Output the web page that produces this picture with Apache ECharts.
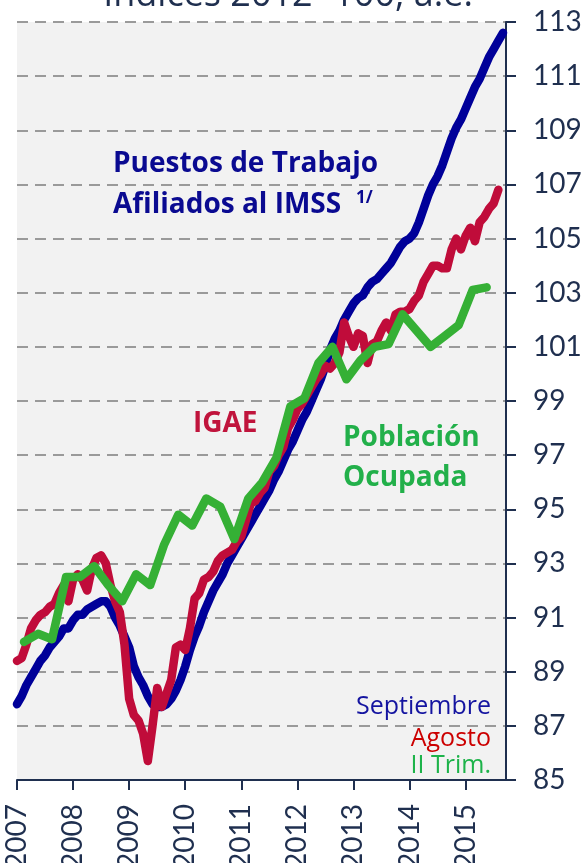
<!DOCTYPE html>
<html>
<head>
<meta charset="utf-8">
<script src="https://cdn.jsdelivr.net/npm/echarts@6/dist/echarts.min.js"></script>
<style>
  html, body { margin: 0; padding: 0; background: #fff; }
  #chart { width: 585px; height: 863px; }
</style>
</head>
<body>
<div id="chart"></div>
<script>
  // indices 2012=100, a.e.
  const startYear = 2007
  const yearTicks = [2007, 2008, 2009, 2010, 2011, 2012, 2013, 2014, 2015]

  // Puestos de trabajo afiliados al IMSS, mensual ene-2007 .. sep-2015
  const imss = [
    87.8, 88.1, 88.5, 88.8, 89.1, 89.4, 89.6, 89.9, 90.1, 90.3, 90.6, 90.6,
    90.9, 91.1, 91.1, 91.3, 91.4, 91.5, 91.6, 91.6, 91.4, 91.0, 90.7, 90.3,
    89.9, 89.2, 88.8, 88.5, 88.1, 87.8, 87.7, 87.7, 87.8, 88.0, 88.3, 88.7,
    89.2, 89.8, 90.3, 90.7, 91.2, 91.6, 92.0, 92.3, 92.6, 93.0, 93.3, 93.6,
    93.9, 94.2, 94.5, 94.8, 95.1, 95.4, 95.7, 96.1, 96.4, 96.8, 97.2, 97.5,
    97.9, 98.3, 98.6, 99.0, 99.4, 99.8, 100.3, 100.9, 101.3, 101.6, 102.0, 102.3,
    102.6, 102.8, 102.9, 103.2, 103.4, 103.5, 103.7, 103.9, 104.1, 104.4, 104.7, 104.9,
    105.0, 105.2, 105.6, 106.1, 106.6, 107.0, 107.3, 107.7, 108.2, 108.7, 109.1, 109.4,
    109.8, 110.2, 110.6, 110.9, 111.3, 111.7, 112.0, 112.3, 112.6
  ]

  // IGAE, mensual ene-2007 .. ago-2015
  const igae = [
    89.4, 89.5, 90.0, 90.6, 90.9, 91.1, 91.2, 91.4, 91.5, 91.9, 92.2, 91.6,
    92.4, 92.6, 92.4, 92.0, 92.8, 93.2, 93.3, 93.0, 92.2, 91.6, 91.2, 90.0,
    88.0, 87.4, 87.2, 86.7, 85.7, 87.0, 88.4, 87.7, 88.2, 88.7, 89.9, 90.0,
    89.8, 90.6, 91.7, 91.9, 92.4, 92.5, 92.7, 93.1, 93.3, 93.4, 93.5, 93.8,
    94.0, 94.6, 95.2, 95.3, 95.6, 95.8, 96.4, 96.6, 97.0, 97.3, 98.0, 98.3,
    98.7, 98.9, 99.2, 99.5, 99.8, 100.0, 100.3, 100.2, 100.4, 100.8, 101.9, 101.4,
    101.0, 101.5, 101.4, 100.4, 101.1, 101.2, 101.6, 101.9, 101.6, 102.2, 102.3, 102.3,
    102.4, 102.7, 102.9, 103.4, 103.7, 104.0, 104.0, 103.9, 103.9, 104.6, 105.0, 104.6,
    105.1, 105.4, 104.9, 105.6, 105.8, 106.1, 106.3, 106.8
  ]

  // Poblacion ocupada, trimestral I-2007 .. II-2015
  const pobOcupada = [
    90.1, 90.4, 90.2, 92.5,
    92.5, 92.9, 92.2, 91.6,
    92.6, 92.2, 93.7, 94.8,
    94.4, 95.4, 95.1, 93.9,
    95.4, 96.0, 96.9, 98.8,
    99.1, 100.4, 101.0, 99.8,
    100.5, 101.0, 101.1, 102.2,
    101.6, 101.0, 101.4, 101.8,
    103.1, 103.2
  ]

  const axisColor = '#1f2f4f'
  const axisFont = 'Lato'
  const textFont = 'Open Sans'

  // month i -> fraction of year, quarter k -> middle of the quarter
  const monthly = arr => arr.map((v, i) => [startYear + i / 12, v])
  const quarterly = arr => arr.map((v, k) => [startYear + (1.5 + 3 * k) / 12, v])

  const chart = echarts.init(document.getElementById('chart'))

  function label(x, y, text, color, size, weight, align) {
    return {
      type: 'text',
      x: x,
      y: y,
      z: 100,
      style: {
        text: text,
        fill: color,
        font: (weight || 'normal') + ' ' + size + 'px "' + textFont + '"',
        textAlign: align || 'left',
        textVerticalAlign: 'middle'
      }
    }
  }

  chart.setOption({
    animation: false,
    grid: {
      left: 17,
      right: 79,
      top: 22,
      bottom: 83,
      outerBoundsMode: 'none',
      show: true,
      backgroundColor: '#f2f2f2',
      borderWidth: 0
    },
    xAxis: {
      type: 'value',
      min: startYear,
      max: 2015.72,
      interval: 1,
      axisLine: { show: true, onZero: false, lineStyle: { color: axisColor, width: 2 } },
      axisTick: { show: true, length: 10, lineStyle: { color: axisColor, width: 2 } },
      splitLine: { show: false },
      axisLabel: {
        rotate: 90,
        margin: 24,
        color: axisColor,
        fontFamily: axisFont,
        fontSize: 28,
        showMaxLabel: false,
        formatter: v => (yearTicks.indexOf(v) >= 0 ? String(v) : '')
      }
    },
    yAxis: {
      type: 'value',
      position: 'right',
      min: 85,
      max: 113,
      interval: 2,
      axisLine: { show: true, lineStyle: { color: axisColor, width: 2 } },
      axisTick: { show: true, length: 10, lineStyle: { color: axisColor, width: 2 } },
      axisLabel: {
        margin: 27,
        color: axisColor,
        fontFamily: axisFont,
        fontSize: 28
      },
      splitLine: {
        show: true,
        lineStyle: { color: '#9a9a9a', width: 2, type: [11, 7] }
      }
    },
    series: [
      {
        name: 'Puestos de Trabajo Afiliados al IMSS',
        type: 'line',
        data: monthly(imss),
        symbol: 'none',
        lineStyle: { color: '#000099', width: 8.5, join: 'round', cap: 'round' }
      },
      {
        name: 'IGAE',
        type: 'line',
        data: monthly(igae),
        symbol: 'none',
        lineStyle: { color: '#c00c3a', width: 8.5, join: 'round', cap: 'round' }
      },
      {
        name: 'Población Ocupada',
        type: 'line',
        data: quarterly(pobOcupada),
        symbol: 'none',
        lineStyle: { color: '#35b035', width: 8.5, join: 'round', cap: 'round' }
      }
    ],
    graphic: [
      label(288, -4, 'Índices 2012=100, a.e.', axisColor, 36, 'normal', 'center'),
      label(113, 164, 'Puestos de Trabajo', '#0a0a91', 28, 'bold'),
      label(113, 205, 'Afiliados al IMSS', '#0a0a91', 28, 'bold'),
      label(356, 198, '1/', '#0a0a91', 17, 'bold'),
      label(193, 424, 'IGAE', '#c0143c', 28, 'bold'),
      label(343, 438, 'Población', '#22b04a', 28, 'bold'),
      label(343, 478, 'Ocupada', '#22b04a', 28, 'bold'),
      label(491, 707, 'Septiembre', '#1414a0', 25, 'normal', 'right'),
      label(491, 739, 'Agosto', '#cc0000', 25, 'normal', 'right'),
      label(491, 766, 'II Trim.', '#1db34a', 25, 'normal', 'right')
    ]
  })
</script>
</body>
</html>
